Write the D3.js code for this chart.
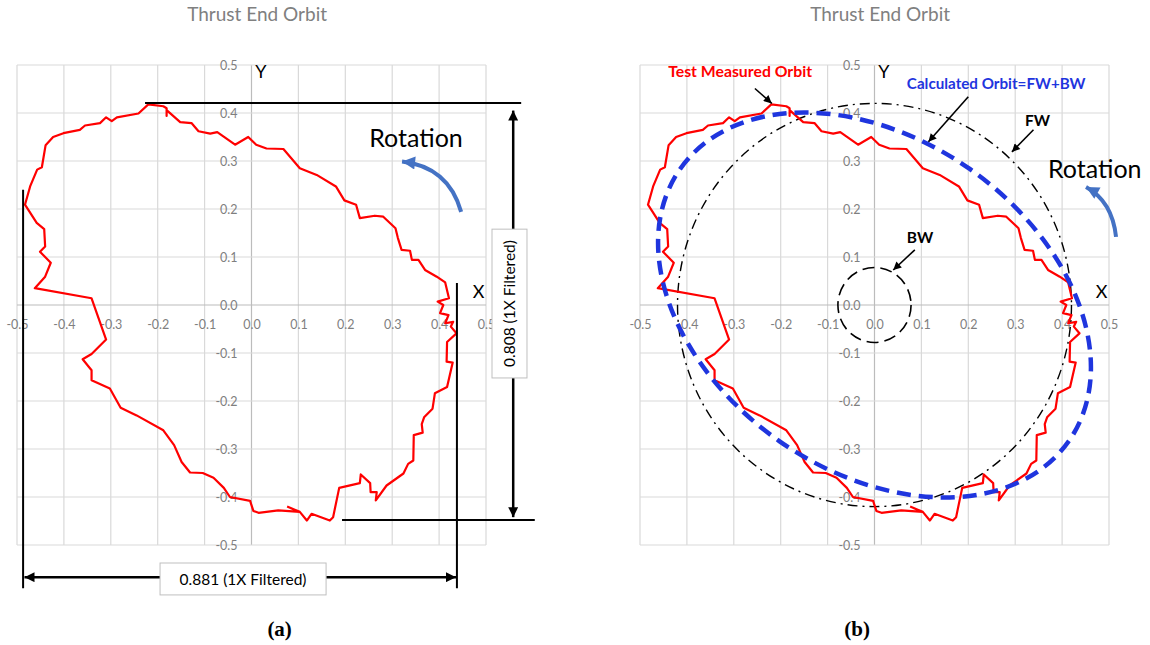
<!DOCTYPE html>
<html>
<head>
<meta charset="utf-8">
<script src="https://cdn.jsdelivr.net/npm/d3@7"></script>
<style>
body { margin: 0; background: #fff; }
svg { display: block; font-family: Lato, "Open Sans", sans-serif; }
</style>
</head>
<body>
<svg id="orbits" width="1150" height="645"></svg>
<script>
// ---- data ----
var chartTitle = 'Thrust End Orbit';
var panelLabels = ['(a)', '(b)'];
var tickValues = [-0.5, -0.4, -0.3, -0.2, -0.1, 0.0, 0.1, 0.2, 0.3, 0.4, 0.5];

// measured orbit (1X filtered), [x, y]
var measuredOrbit = [
    [0.076, -0.420], [0.103, -0.431], [0.118, -0.449], [0.128, -0.435], [0.167, -0.449],
    [0.174, -0.442], [0.187, -0.381], [0.231, -0.371], [0.233, -0.353], [0.253, -0.371],
    [0.254, -0.390], [0.267, -0.390], [0.265, -0.407], [0.288, -0.376], [0.324, -0.351],
    [0.334, -0.331], [0.345, -0.324], [0.346, -0.271], [0.365, -0.266], [0.363, -0.248],
    [0.368, -0.234], [0.386, -0.216], [0.391, -0.184], [0.417, -0.171], [0.429, -0.120],
    [0.416, -0.118], [0.417, -0.077], [0.437, -0.059], [0.425, -0.045], [0.430, -0.035],
    [0.413, -0.038], [0.420, -0.021], [0.402, -0.017], [0.409, 0.000], [0.397, 0.007],
    [0.421, 0.014], [0.413, 0.047], [0.395, 0.059], [0.370, 0.073], [0.356, 0.094],
    [0.342, 0.094], [0.338, 0.113], [0.320, 0.115], [0.312, 0.140], [0.307, 0.160],
    [0.281, 0.184], [0.263, 0.186], [0.231, 0.181], [0.223, 0.209], [0.198, 0.218],
    [0.180, 0.247], [0.139, 0.271], [0.103, 0.285], [0.068, 0.325], [0.032, 0.326],
    [0.010, 0.334], [-0.007, 0.350], [-0.035, 0.334], [-0.073, 0.360], [-0.088, 0.357],
    [-0.113, 0.362], [-0.128, 0.379], [-0.152, 0.381], [-0.181, 0.406], [-0.181, 0.394],
    [-0.181, 0.410], [-0.188, 0.414], [-0.220, 0.418], [-0.241, 0.399], [-0.287, 0.391],
    [-0.298, 0.383], [-0.310, 0.391], [-0.323, 0.379], [-0.355, 0.374], [-0.366, 0.365],
    [-0.401, 0.358], [-0.423, 0.350], [-0.439, 0.333], [-0.447, 0.287], [-0.457, 0.282],
    [-0.472, 0.247], [-0.483, 0.209], [-0.458, 0.171], [-0.442, 0.158], [-0.440, 0.122],
    [-0.451, 0.111], [-0.428, 0.088], [-0.440, 0.059], [-0.462, 0.035], [-0.341, 0.014],
    [-0.310, -0.072], [-0.341, -0.102], [-0.360, -0.113], [-0.341, -0.136], [-0.341, -0.157],
    [-0.302, -0.174], [-0.279, -0.214], [-0.245, -0.230], [-0.188, -0.261], [-0.165, -0.292],
    [-0.149, -0.327], [-0.131, -0.349], [-0.104, -0.350], [-0.081, -0.360], [-0.059, -0.381],
    [-0.046, -0.400], [-0.003, -0.408], [0.004, -0.429], [0.015, -0.433], [0.057, -0.428],
    [0.103, -0.431]
];

var fwOrbit = [0, 0, 0.42];     // cx, cy, radius (forward whirl)
var bwOrbit = [0, 0, 0.078];    // cx, cy, radius (backward whirl)
var calcOrbit = [0, 0, 0.50, 0.35, 145];  // cx, cy, semi-major, semi-minor, major axis angle (deg)

var orbitSpan = ['0.881 (1X Filtered)', '0.808 (1X Filtered)'];

init();

function init() {
    var svg = d3.select('#orbits');

    var yScale = d3.scaleLinear().domain([-0.5, 0.5]).range([545, 65]);
    var xLeft = d3.scaleLinear().domain([-0.5, 0.5]).range([17, 486]);
    var xRight = d3.scaleLinear().domain([-0.5, 0.5]).range([640, 1109]);

    addMarkers(svg);

    var gA = svg.append('g');
    var gB = svg.append('g');
    drawFrame(gA, xLeft, yScale, panelLabels[0], 0.06);
    drawFrame(gB, xRight, yScale, panelLabels[1], -0.037);

    drawLeftNotes(gA, xLeft, yScale);

    // ---- right chart: FW, BW and the calculated orbit ----
    var kx = xRight(1) - xRight(0);
    var ky = yScale(0) - yScale(1);

    gB.append('ellipse')  // forward whirl
        .attr('cx', xRight(fwOrbit[0]))
        .attr('cy', yScale(fwOrbit[1]))
        .attr('rx', fwOrbit[2] * kx)
        .attr('ry', fwOrbit[2] * ky)
        .attr('fill', 'none')
        .attr('stroke', '#000')
        .attr('stroke-width', 1.4)
        .attr('stroke-dasharray', '10,5,2,5');

    gB.append('ellipse')  // backward whirl
        .attr('cx', xRight(bwOrbit[0]))
        .attr('cy', yScale(bwOrbit[1]))
        .attr('rx', bwOrbit[2] * kx)
        .attr('ry', bwOrbit[2] * ky)
        .attr('fill', 'none')
        .attr('stroke', '#000')
        .attr('stroke-width', 1.6)
        .attr('stroke-dasharray', '12,6');

    drawMeasured(gB, xRight, yScale);

    var k = (kx + ky) / 2;
    gB.append('ellipse')  // calculated = FW + BW
        .attr('transform', 'translate(' + xRight(calcOrbit[0]) + ',' + yScale(calcOrbit[1]) + ') rotate(' + (-calcOrbit[4]) + ')')
        .attr('rx', calcOrbit[2] * k)
        .attr('ry', calcOrbit[3] * k)
        .attr('fill', 'none')
        .attr('stroke', '#1f35de')
        .attr('stroke-width', 4.5)
        .attr('stroke-dasharray', '14,8');

    drawRightNotes(gB, xRight, yScale);
}

// -----------------------------------
function addMarkers(svg) {
    var defs = svg.append('defs');
    var specs = [['arrBig', '#000', 13, 10], ['arrSmall', '#000', 10, 8], ['arrBlue', '#4472c4', 16, 13]];
    specs.forEach(function(s) {
        defs.append('marker')
            .attr('id', s[0])
            .attr('viewBox', '0 0 10 10')
            .attr('refX', 10)
            .attr('refY', 5)
            .attr('markerUnits', 'userSpaceOnUse')
            .attr('markerWidth', s[2])
            .attr('markerHeight', s[3])
            .attr('orient', 'auto')
            .append('path')
            .attr('d', 'M0,0L10,5L0,10z')
            .attr('fill', s[1]);
    });
}

// ------------------------------------
function drawFrame(g, x, y, label, labelAt) {
    // grid
    g.append('g')
        .selectAll('line')
        .data(tickValues)
        .enter()
        .append('line')
        .attr('x1', function(d){ return x(d); })
        .attr('x2', function(d){ return x(d); })
        .attr('y1', y(-0.5))
        .attr('y2', y(0.5))
        .attr('stroke', function(d){ return d === 0 ? '#bcbcbc' : '#d9d9d9'; })
        .attr('stroke-width', 1.2);
    g.append('g')
        .selectAll('line')
        .data(tickValues)
        .enter()
        .append('line')
        .attr('y1', function(d){ return y(d); })
        .attr('y2', function(d){ return y(d); })
        .attr('x1', x(-0.5))
        .attr('x2', x(0.5))
        .attr('stroke', function(d){ return d === 0 ? '#bcbcbc' : '#d9d9d9'; })
        .attr('stroke-width', 1.2);

    var fmt = function(d){ return d.toFixed(1); };

    var ax = g.append('g')
        .attr('transform', 'translate(0,' + y(0) + ')')
        .call(d3.axisBottom(x).tickValues(tickValues).tickSize(0).tickPadding(15).tickFormat(fmt));
    var ay = g.append('g')
        .attr('transform', 'translate(' + x(0) + ',0)')
        .call(d3.axisLeft(y).tickValues(tickValues).tickSize(0).tickPadding(14).tickFormat(fmt));
    [ax, ay].forEach(function(a) {
        a.attr('font-family', null).attr('font-size', null);
        a.select('.domain').remove();
        a.selectAll('text')
            .attr('fill', '#7f7f7f')
            .style('font-size', '12.5px');
    });

    // axis letters
    g.append('text')
        .attr('x', x(0.008))
        .attr('y', y(0.472))
        .style('font-size', '18px')
        .text('Y');
    g.append('text')
        .attr('x', x(0.472))
        .attr('y', y(0.014))
        .style('font-size', '18px')
        .text('X');

    // title
    g.append('text')
        .attr('x', x(0.012))
        .attr('y', 21)
        .attr('text-anchor', 'middle')
        .attr('fill', '#808080')
        .style('font-size', '19px')
        .text(chartTitle);

    // panel label
    g.append('text')
        .attr('x', x(labelAt))
        .attr('y', 636)
        .attr('text-anchor', 'middle')
        .style('font-family', '"Liberation Serif", serif')
        .style('font-weight', 'bold')
        .style('font-size', '21px')
        .text(label);

    drawRotation(g, x, y, label === panelLabels[0]);
}

// ------------------------------------
function drawMeasured(g, x, y) {
    var line = d3.line()
        .x(function(d){ return x(d[0]); })
        .y(function(d){ return y(d[1]); });
    g.append('path')
        .datum(measuredOrbit)
        .attr('d', line)
        .attr('fill', 'none')
        .attr('stroke', '#ff0000')
        .attr('stroke-width', 2.2)
        .attr('stroke-linejoin', 'round');
}

// ------------------------------------
function drawRotation(g, x, y, isLeft) {
    // start, control, end of the blue arc and where the word sits
    var arc = isLeft ? [[0.447, 0.194], [0.420, 0.288], [0.321, 0.299]] : [[0.515, 0.142], [0.507, 0.216], [0.451, 0.246]];
    var word = isLeft ? [0.251, 0.330] : [0.370, 0.265];
    g.append('path')
        .attr('d', 'M' + x(arc[0][0]) + ',' + y(arc[0][1]) +
            'Q' + x(arc[1][0]) + ',' + y(arc[1][1]) + ' ' + x(arc[2][0]) + ',' + y(arc[2][1]))
        .attr('fill', 'none')
        .attr('stroke', '#4472c4')
        .attr('stroke-width', 4)
        .attr('marker-end', 'url(#arrBlue)');
    g.append('text')
        .attr('x', x(word[0]))
        .attr('y', y(word[1]))
        .style('font-size', '25px')
        .text('Rotation');
}

// ------------------------------------
function segment(g, x, y, p, q, w, marker) {
    var s = g.append('line')
        .attr('x1', x(p[0])).attr('y1', y(p[1]))
        .attr('x2', x(q[0])).attr('y2', y(q[1]))
        .attr('stroke', '#000')
        .attr('stroke-width', w);
    if (marker) s.attr('marker-end', 'url(#' + marker + ')');
    return s;
}

function drawLeftNotes(g, x, y) {
    // measured orbit first, the extent lines over it
    drawMeasured(g, x, y);

    segment(g, x, y, [-0.227, 0.421], [0.575, 0.421], 2);   // top
    segment(g, x, y, [0.193, -0.448], [0.604, -0.448], 2);  // bottom
    segment(g, x, y, [-0.487, 0.240], [-0.487, -0.590], 2); // left
    segment(g, x, y, [0.438, 0.046], [0.438, -0.590], 2);   // right

    // horizontal span
    segment(g, x, y, [-0.195, -0.567], [-0.484, -0.567], 2.5, 'arrBig');
    segment(g, x, y, [0.159, -0.567], [0.436, -0.567], 2.5, 'arrBig');
    g.append('rect')
        .attr('x', x(-0.195))
        .attr('y', y(-0.5375))
        .attr('width', x(0.159) - x(-0.195))
        .attr('height', y(-0.604) - y(-0.5375))
        .attr('fill', '#fff')
        .attr('stroke', '#bfbfbf');
    g.append('text')
        .attr('x', (x(-0.195) + x(0.159)) / 2)
        .attr('y', y(-0.571))
        .attr('text-anchor', 'middle')
        .attr('dominant-baseline', 'central')
        .style('font-size', '15.5px')
        .text(orbitSpan[0]);

    // vertical span
    segment(g, x, y, [0.558, 0.158], [0.558, 0.405], 2.5, 'arrBig');
    segment(g, x, y, [0.558, -0.152], [0.558, -0.442], 2.5, 'arrBig');
    g.append('rect')
        .attr('x', x(0.5128))
        .attr('y', y(0.158))
        .attr('width', x(0.5874) - x(0.5128))
        .attr('height', y(-0.152) - y(0.158))
        .attr('fill', '#fff')
        .attr('stroke', '#bfbfbf');
    g.append('text')
        .attr('transform', 'translate(' + x(0.5501) + ',' + y(0.003) + ') rotate(-90)')
        .attr('text-anchor', 'middle')
        .attr('dominant-baseline', 'central')
        .style('font-size', '15.5px')
        .text(orbitSpan[1]);
}

function drawRightNotes(g, x, y) {
    var notes = [
        ['Test Measured Orbit', '#ff0000', [-0.440, 0.476], [-0.255, 0.451], [-0.219, 0.420], 15.8],
        ['Calculated Orbit=FW+BW', '#1f35de', [0.069, 0.451], [0.200, 0.434], [0.115, 0.340], 15.2],
        ['FW', '#000', [0.321, 0.373], [0.339, 0.365], [0.293, 0.319], 15.5],
        ['BW', '#000', [0.069, 0.1285], [0.086, 0.115], [0.040, 0.073], 15.5]
    ];
    notes.forEach(function(n) {
        g.append('text')
            .attr('x', x(n[2][0]))
            .attr('y', y(n[2][1]))
            .attr('fill', n[1])
            .style('font-size', n[5] + 'px')
            .style('font-weight', 'bold')
            .text(n[0]);
        segment(g, x, y, n[3], n[4], 1.6, 'arrSmall');
    });
}
</script>
</body>
</html>
